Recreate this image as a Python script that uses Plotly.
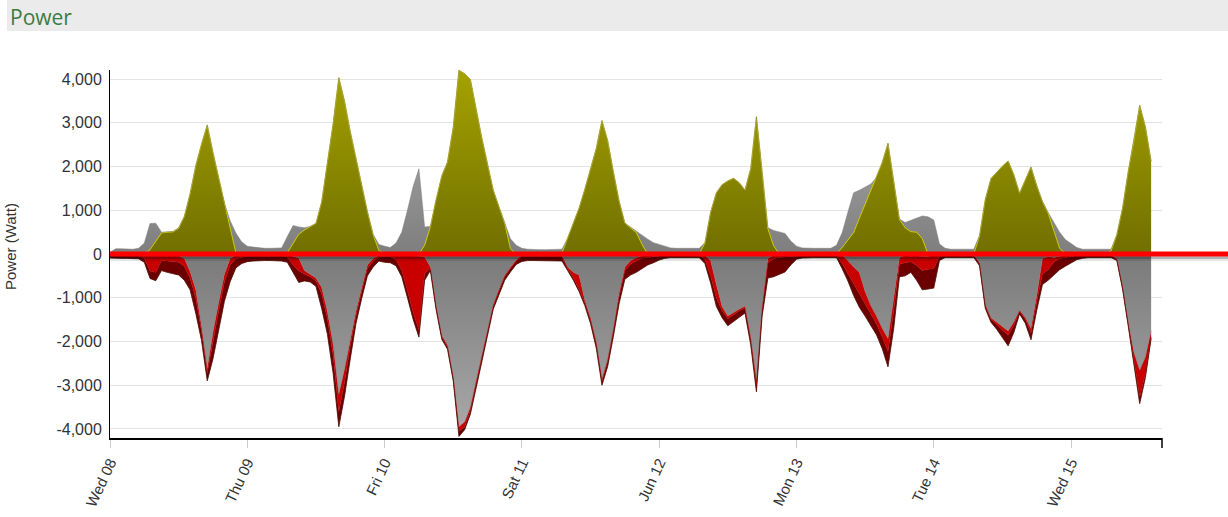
import pandas as pd
import plotly.graph_objects as go

# hourly samples, Wed 08 00:00 .. Wed 15 14:00
times = pd.date_range("2016-06-08 00:00", periods=183, freq="h")

# ---- production side (W) ----
solar = (
    [0, 0, 0, 0, 0, 0, 0, 100, 300, 480, 500, 505, 590, 860, 1380, 2020, 2510, 2950, 2320, 1720, 1160, 600, 30, 0]
    + [0, 0, 0, 0, 0, 0, 0, 30, 250, 450, 550, 620, 700, 1190, 2080, 2975, 4030, 3490, 2800, 2190, 1575, 970, 440, 80]
    + [0, 0, 0, 0, 0, 0, 0, 200, 620, 1245, 1785, 2105, 2893, 4200, 4120, 3990, 3300, 2650, 2055, 1460, 1080, 700, 120, 0]
    + [0, 0, 0, 0, 0, 0, 0, 20, 362, 710, 1050, 1478, 1925, 2411, 3050, 2592, 1880, 1210, 707, 600, 490, 220, 0, 0]
    + [0, 0, 0, 0, 0, 0, 0, 0, 250, 960, 1400, 1585, 1670, 1730, 1630, 1460, 1950, 3140, 1880, 580, 190, 0, 0, 0]
    + [0, 0, 0, 0, 0, 0, 0, 0, 150, 320, 490, 820, 1135, 1440, 1740, 2094, 2530, 1660, 790, 600, 510, 500, 350, 0]
    + [0, 0, 0, 0, 0, 0, 0, 0, 412, 1240, 1724, 1870, 2008, 2125, 1813, 1390, 1690, 1990, 1564, 1202, 930, 552, 130, 0]
    + [0, 0, 0, 0, 0, 0, 0, 70, 438, 1045, 1890, 2601, 3400, 2907, 2120]
)
grid_in = (
    [40, 120, 120, 110, 110, 130, 250, 600, 405, 20, 10, 10, 10, 0, 0, 0, 0, 0, 0, 0, 0, 160, 450, 280]
    + [180, 160, 140, 130, 130, 130, 140, 370, 400, 170, 50, 10, 0, 0, 0, 0, 0, 0, 0, 0, 0, 0, 10, 140]
    + [180, 150, 250, 500, 1000, 1550, 1950, 420, 10, 0, 0, 0, 0, 0, 0, 0, 0, 0, 0, 0, 0, 0, 230, 200]
    + [130, 110, 100, 100, 100, 100, 100, 90, 0, 0, 0, 0, 0, 0, 0, 0, 0, 0, 0, 10, 30, 210, 340, 260]
    + [220, 170, 140, 130, 130, 130, 130, 130, 10, 0, 0, 0, 0, 0, 0, 0, 0, 0, 0, 20, 350, 500, 470, 300]
    + [180, 140, 130, 130, 130, 130, 130, 200, 340, 640, 910, 640, 395, 160, 10, 0, 0, 0, 10, 120, 260, 330, 520, 850]
    + [780, 230, 130, 110, 110, 110, 110, 110, 10, 0, 0, 0, 0, 0, 0, 0, 0, 0, 0, 0, 20, 170, 370, 330]
    + [230, 150, 110, 110, 110, 110, 110, 40, 2, 0, 0, 0, 0, 0, 0]
)

# ---- consumption side (W) ----
use_grey = (
    [-10, -10, -10, -10, -10, -10, -20, -40, -40, -30, -30, -30, -40, -100, -400, -815, -1650, -2620, -1790, -1100, -460, -100, -30, -20]
    + [-10, -10, -10, -10, -10, -10, -10, -10, -50, -90, -380, -470, -550, -760, -1310, -2060, -3200, -2630, -1930, -1310, -775, -250, -100, -30]
    + [-10, -10, -10, -20, -30, -40, -40, -60, -290, -1180, -1865, -2080, -2800, -3950, -3835, -3500, -2900, -2330, -1720, -1150, -800, -480, -300, -130]
    + [-20, -10, -10, -10, -10, -10, -10, -20, -300, -420, -480, -1050, -1460, -2000, -2860, -2400, -1700, -900, -300, -150, -80, -40, -30, -20]
    + [-10, -10, -10, -10, -10, -10, -10, -10, -30, -150, -700, -1200, -1420, -1330, -1260, -1190, -1900, -2860, -1200, -100, -30, -20, -20, -10]
    + [-10, -10, -10, -10, -10, -10, -10, -10, -20, -150, -300, -420, -860, -1180, -1420, -1700, -1930, -1000, -80, -30, -30, -40, -50, -50]
    + [-30, -10, -10, -10, -10, -10, -10, -10, -200, -1150, -1460, -1560, -1660, -1760, -1550, -1280, -1450, -1700, -950, -100, -60, -80, -50, -30]
    + [-20, -10, -10, -10, -10, -10, -10, -10, -100, -720, -1560, -2250, -2650, -2350, -1750]
)
use_red = (
    [-20, -20, -20, -20, -20, -30, -80, -350, -380, -120, -130, -140, -150, -180, -150, -200, -120, -100, -200, -200, -180, -150, -80, -60]
    + [-40, -40, -40, -40, -40, -40, -40, -60, -200, -300, -80, -50, -60, -150, -170, -250, -400, -300, -180, -100, -80, -80, -60, -40]
    + [-50, -50, -120, -350, -810, -1300, -1700, -380, -40, -30, -30, -40, -40, -100, -120, -80, -60, -50, -50, -40, -40, -40, -30, -30]
    + [-40, -40, -40, -40, -40, -40, -40, -40, -30, -130, -330, -60, -50, -50, -50, -60, -60, -80, -80, -80, -80, -60, -50, -40]
    + [-30, -20, -20, -20, -20, -20, -20, -20, -90, -350, -300, -100, -60, -50, -40, -40, -60, -150, -80, -100, -80, -60, -50, -40]
    + [-30, -20, -20, -20, -20, -20, -20, -20, -200, -300, -400, -500, -300, -200, -180, -200, -300, -300, -150, -170, -150, -220, -330, -300]
    + [-300, -40, -20, -20, -20, -20, -20, -20, -20, -30, -30, -50, -80, -100, -80, -30, -40, -100, -150, -350, -300, -100, -60, -50]
    + [-40, -30, -20, -20, -20, -20, -20, -20, -20, -40, -50, -200, -620, -400, -150]
)
use_dark = (
    [-60, -70, -70, -70, -70, -70, -90, -170, -190, -230, -260, -280, -290, -320, -270, -345, -206, -180, -406, -440, -440, -383, -210, -140]
    + [-125, -110, -100, -100, -100, -100, -110, -120, -170, -260, -155, -120, -130, -335, -350, -415, -350, -320, -290, -180, -160, -170, -140, -90]
    + [-130, -140, -140, -150, -160, -160, -160, -160, -50, -60, -55, -60, -60, -120, -60, -80, -105, -90, -95, -70, -90, -80, -80, -80]
    + [-110, -100, -100, -100, -100, -100, -100, -100, -50, -50, -50, -70, -80, -100, -90, -110, -120, -150, -200, -250, -260, -230, -170, -140]
    + [-100, -70, -50, -50, -50, -50, -50, -50, -100, -165, -200, -155, -160, -170, -150, -120, -115, -140, -140, -350, -410, -380, -340, -200]
    + [-80, -60, -50, -50, -50, -50, -50, -50, -120, -170, -250, -300, -260, -254, -250, -267, -350, -400, -290, -300, -240, -340, -440, -450]
    + [-450, -100, -50, -50, -50, -50, -50, -50, -50, -60, -70, -110, -170, -240, -166, -60, -93, -160, -190, -250, -240, -305, -250, -200]
    + [-140, -90, -70, -50, -50, -50, -50, -50, -30, -40, -40, -40, -150, -75, -30]
)

tick_days = pd.date_range("2016-06-08", periods=8, freq="D")
tick_labels = ["Wed 08", "Thu 09", "Fri 10", "Sat 11", "Jun 12", "Mon 13", "Tue 14", "Wed 15"]
y_ticks = [-4000, -3000, -2000, -1000, 0, 1000, 2000, 3000, 4000]
y_labels = ["-4,000", "-3,000", "-2,000", "-1,000", "0", "1,000", "2,000", "3,000", "4,000"]

fig = go.Figure()
fig.add_trace(go.Scatter(
    x=times, y=solar, stackgroup="pos", mode="lines",
    line=dict(width=1, color="#c9c600"),
    fillgradient=dict(type="vertical", colorscale=[[0, "#716f00"], [1, "#a5a200"]], start=0, stop=4200),
    hoverinfo="skip"))
fig.add_trace(go.Scatter(
    x=times, y=grid_in, stackgroup="pos", mode="lines",
    line=dict(width=0.5, color="#7a7a7a"),
    fillgradient=dict(type="vertical", colorscale=[[0, "#7e7e7e"], [1, "#9a9a9a"]], start=0, stop=2200),
    hoverinfo="skip"))
fig.add_trace(go.Scatter(
    x=times, y=use_grey, stackgroup="neg", mode="lines",
    line=dict(width=0.5, color="#808080"),
    fillgradient=dict(type="vertical", colorscale=[[0, "#aaaaaa"], [1, "#7a7a7a"]], start=-4200, stop=0),
    hoverinfo="skip"))
fig.add_trace(go.Scatter(
    x=times, y=use_red, stackgroup="neg", mode="lines",
    line=dict(width=0.5, color="#c00000"), fillcolor="#c80000",
    hoverinfo="skip"))
fig.add_trace(go.Scatter(
    x=times, y=use_dark, stackgroup="neg", mode="lines",
    line=dict(width=0.8, color="#4a0a00"), fillcolor="#6c0000",
    hoverinfo="skip"))

PW = 1162 - 110
PH = 438 - 70

shapes = [
    dict(type="rect", xref="paper", yref="paper", x0=(7 - 110) / PW, x1=(1228 - 110) / PW,
         y0=1 + (70 - 31) / PH, y1=1 + 70 / PH, fillcolor="#ebebeb", line=dict(width=0), layer="below"),
    dict(type="line", xref="paper", yref="paper", x0=0, x1=(1228 - 110) / PW,
         y0=0.5 - 5 / PH, y1=0.5 - 5 / PH, line=dict(color="rgba(0,0,0,0.10)", width=4)),
    dict(type="line", xref="paper", yref="paper", x0=0, x1=(1228 - 110) / PW,
         y0=0.5 - 3.5 / PH, y1=0.5 - 3.5 / PH, line=dict(color="rgba(0,0,0,0.22)", width=3)),
    dict(type="line", xref="paper", yref="paper", x0=0, x1=(1228 - 110) / PW,
         y0=0.5, y1=0.5, line=dict(color="#ff0000", width=5)),
    dict(type="line", xref="paper", yref="paper", x0=1, x1=1,
         y0=0, y1=-10 / PH, line=dict(color="#000000", width=1.5)),
]

annotations = [
    dict(text="Power", xref="paper", yref="paper", x=(8 - 110) / PW, y=1 + (70 - 17) / PH,
         xanchor="left", yanchor="middle", showarrow=False,
         font=dict(family="Open Sans", size=21, color="#3b7b45")),
    dict(text="Power (Watt)", xref="paper", yref="paper", x=(10 - 110) / PW, y=(438 - 247) / PH,
         xanchor="center", yanchor="middle", textangle=-90, showarrow=False,
         font=dict(family="Liberation Sans, Arial", size=15, color="#333333")),
]

fig.update_layout(
    width=1228, height=517,
    margin=dict(l=110, r=1228 - 1162, t=70, b=517 - 438, pad=0, autoexpand=False),
    paper_bgcolor="white", plot_bgcolor="white",
    showlegend=False, hovermode=False,
    shapes=shapes, annotations=annotations,
    font=dict(family="Liberation Sans, Arial", size=15, color="#333333"),
)
fig.update_xaxes(
    range=[pd.Timestamp("2016-06-08 00:00"), pd.Timestamp("2016-06-15 15:54")],
    tickvals=tick_days, ticktext=tick_labels, tickangle=-65, automargin=False,
    showgrid=False, zeroline=False,
    showline=True, linecolor="#000000", linewidth=2,
    ticks="outside", ticklen=8, tickcolor="#cccccc", tickwidth=1,
    tickfont=dict(family="Liberation Sans, Arial", size=15, color="#333333"),
)
fig.update_yaxes(
    range=[-4206, 4206], tickvals=y_ticks, ticktext=y_labels, automargin=False,
    showgrid=True, gridcolor="#e3e3e3", gridwidth=1, zeroline=False,
    showline=True, linecolor="#000000", linewidth=1,
    ticks="outside", ticklen=4, tickcolor="rgba(0,0,0,0)",
    tickfont=dict(family="Liberation Sans, Arial", size=16, color="#333333"),
)

fig.write_html("out.html", config={"displayModeBar": False},
               post_script="document.body.style.margin='0';")
